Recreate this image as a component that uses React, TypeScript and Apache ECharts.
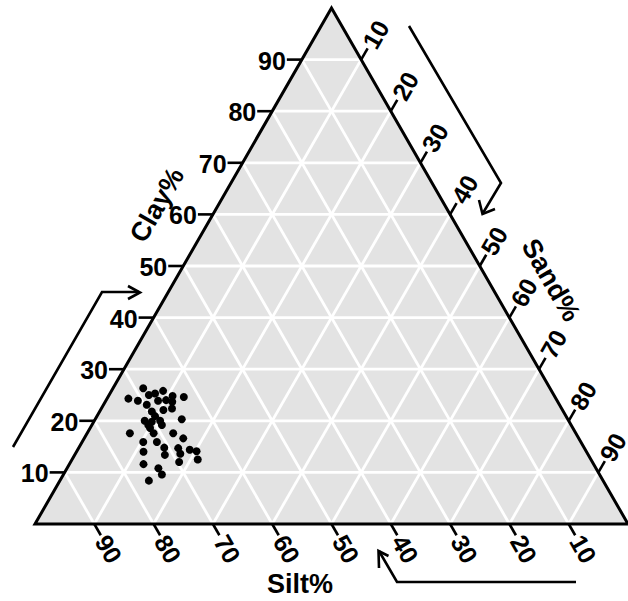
import React, { useEffect, useRef } from "react";
import * as echarts from "echarts";

// ---- data ----
const tickValues = [10, 20, 30, 40, 50, 60, 70, 80, 90];
const clayLabels = ["10", "20", "30", "40", "50", "60", "70", "80", "90"];
const sandLabels = ["10", "20", "30", "40", "50", "60", "70", "80", "90"];
const siltLabels = ["10", "20", "30", "40", "50", "60", "70", "80", "90"];

const clay = [26.3, 24.3, 23.9, 25.0, 25.3, 25.8, 23.9, 24.8, 24.6, 23.7, 23.1, 21.8, 22.1, 22.4, 20.0, 19.8, 20.0, 19.2, 19.2, 20.3, 17.6, 17.6, 17.6, 15.9, 15.9, 16.6, 14.0, 14.8, 13.4, 14.7, 13.6, 14.4, 14.1, 12.5, 11.6, 10.8, 9.6, 12.0, 8.4, 20.9, 24.0, 18.6];
const sand = [5.1, 3.6, 5.4, 6.7, 7.6, 8.7, 8.8, 10.8, 12.8, 11.3, 7.3, 8.8, 10.6, 11.9, 8.5, 9.8, 11.1, 9.5, 11.8, 14.6, 7.2, 11.2, 14.5, 10.3, 12.6, 16.7, 11.3, 14.4, 15.2, 16.8, 17.7, 18.9, 20.2, 21.2, 12.5, 15.4, 16.6, 18.3, 15.0, 9.8, 10.1, 10.1];
const silt = [68.6, 72.1, 70.7, 68.3, 67.1, 65.5, 67.3, 64.4, 62.6, 65.0, 69.6, 69.4, 67.3, 65.7, 71.5, 70.4, 68.9, 71.3, 69.0, 65.1, 75.2, 71.2, 67.9, 73.8, 71.5, 66.7, 74.7, 70.8, 71.4, 68.5, 68.7, 66.7, 65.7, 66.3, 75.9, 73.8, 73.8, 69.7, 76.6, 69.3, 65.9, 71.3];

const FONT = "Liberation Sans, Arial, sans-serif";

function toXY(c: number, s: number, si: number) {
  const tot = c + s + si;
  const cn = (c / tot) * 100;
  const sn = (s / tot) * 100;
  return [sn + cn / 2, cn];
}

function txt(text: string, x: number, y: number, rot: number, size: number, align: string) {
  return {
    type: "text",
    x,
    y,
    rotation: rot,
    style: {
      text,
      fill: "#000",
      fontSize: size,
      fontWeight: "bold",
      fontFamily: FONT,
      align,
      verticalAlign: "middle",
      textAlign: align,
      textVerticalAlign: "middle",
    },
  };
}

export default function App() {
  const ref = useRef<HTMLDivElement>(null);
  useEffect(() => {
    if (!ref.current) return;
    const chart = echarts.init(ref.current, null, { renderer: "svg" });

    const renderFrame = (params: any, api: any) => {
      const P = (c: number, s: number) => api.coord([s + c / 2, c]);
      const children: any[] = [];
      children.push({
        type: "polygon",
        shape: { points: [P(0, 0), P(0, 100), P(100, 0)] },
        style: { fill: "#E3E3E3" },
      });
      const gl = { stroke: "#FFFFFF", lineWidth: 2.8 };
      tickValues.forEach((v) => {
        const a1 = P(v, 0), a2 = P(v, 100 - v);
        children.push({ type: "line", shape: { x1: a1[0], y1: a1[1], x2: a2[0], y2: a2[1] }, style: gl });
        const b1 = P(0, v), b2 = P(100 - v, v);
        children.push({ type: "line", shape: { x1: b1[0], y1: b1[1], x2: b2[0], y2: b2[1] }, style: gl });
        const c1 = P(0, 100 - v), c2 = P(100 - v, 0);
        children.push({ type: "line", shape: { x1: c1[0], y1: c1[1], x2: c2[0], y2: c2[1] }, style: gl });
      });
      children.push({
        type: "polygon",
        shape: { points: [P(0, 0), P(0, 100), P(100, 0)] },
        style: { fill: "none", stroke: "#000", lineWidth: 3, lineJoin: "miter" },
      });
      const tk = { stroke: "#000", lineWidth: 2.6 };
      const TL = 13;
      const LD = 29;
      const c60 = 0.5, s60 = Math.sqrt(3) / 2;
      tickValues.forEach((v, i) => {
        // clay (left edge)
        const l = P(v, 0);
        children.push({ type: "line", shape: { x1: l[0], y1: l[1], x2: l[0] - TL - 2, y2: l[1] }, style: tk });
        children.push(txt(clayLabels[i], l[0] - TL - 3, l[1] + 1, 0, 25, "right"));
        // sand (right edge)
        const r = P(100 - v, v);
        children.push({ type: "line", shape: { x1: r[0], y1: r[1], x2: r[0] + TL * c60, y2: r[1] - TL * s60 }, style: tk });
        children.push(txt(sandLabels[i], r[0] + LD * c60, r[1] - LD * s60, Math.PI / 3, 25, "center"));
        // silt (bottom edge)
        const b = P(0, 100 - v);
        children.push({ type: "line", shape: { x1: b[0], y1: b[1], x2: b[0] + TL * c60, y2: b[1] + TL * s60 }, style: tk });
        children.push(txt(siltLabels[i], b[0] + LD * c60, b[1] + LD * s60, -Math.PI / 3, 25, "center"));
      });
      return { type: "group", children };
    };

    const arrowStyle = { stroke: "#000", lineWidth: 2.6, fill: "none" };

    chart.setOption({
      animation: false,
      grid: { left: 35, top: 8, width: 593, height: 516 },
      xAxis: { type: "value", min: 0, max: 100, show: false },
      yAxis: { type: "value", min: 0, max: 100, show: false },
      series: [
        {
          type: "custom",
          renderItem: renderFrame,
          data: [[50, 50]],
          clip: false,
          silent: true,
          z: 1,
        },
        {
          type: "scatter",
          data: clay.map((c, i) => toXY(c, sand[i], silt[i])),
          symbol: "circle",
          symbolSize: 8,
          itemStyle: { color: "#000", opacity: 1 },
          z: 3,
        },
      ],
      graphic: [
        txt("Clay%", 157, 205, Math.PI / 3, 27, "center"),
        txt("Sand%", 551, 280, -Math.PI / 3, 27, "center"),
        txt("Silt%", 300, 584, 0, 27, "center"),
        { type: "polyline", shape: { points: [[13, 447], [102, 292], [139, 292]] }, style: arrowStyle },
        { type: "polyline", shape: { points: [[128, 286], [140, 292.5], [128, 299]] }, style: arrowStyle },
        { type: "polyline", shape: { points: [[409, 26], [501, 183], [483, 213]] }, style: arrowStyle },
        { type: "polyline", shape: { points: [[479, 200], [482.5, 214], [495, 209]] }, style: arrowStyle },
        { type: "polyline", shape: { points: [[576, 582], [397, 582], [379, 551]] }, style: arrowStyle },
        { type: "polyline", shape: { points: [[379, 568], [378.5, 551], [388.5, 556]] }, style: arrowStyle },
      ],
    });
    return () => chart.dispose();
  }, []);
  return (
    <div
      ref={ref}
      style={{ position: "fixed", left: 0, top: 0, width: 628, height: 601, background: "#fff" }}
    />
  );
}
